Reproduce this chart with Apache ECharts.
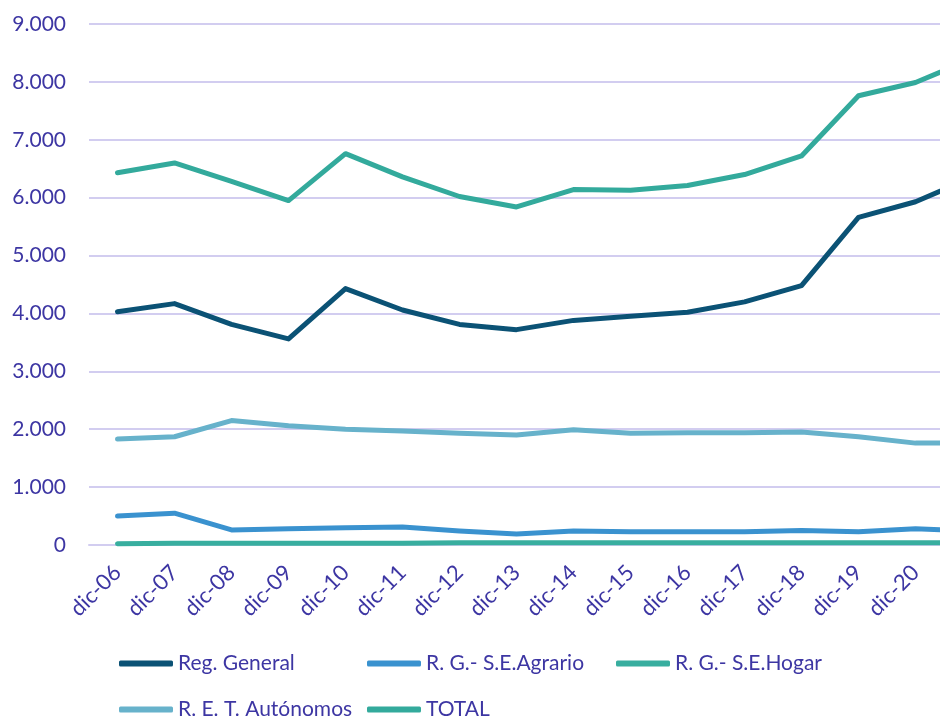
<!DOCTYPE html>
<html>
<head>
<meta charset="utf-8">
<script src="https://cdn.jsdelivr.net/npm/echarts@6/dist/echarts.min.js"></script>
<style>
  html, body { margin: 0; padding: 0; background: #fff; }
  #chart { width: 940px; height: 718px; }
</style>
</head>
<body>
<div id="chart"></div>
<script>
    // years shown on the x axis (last one sits past the right edge)
    var categories = ['dic-06', 'dic-07', 'dic-08', 'dic-09', 'dic-10', 'dic-11', 'dic-12', 'dic-13',
        'dic-14', 'dic-15', 'dic-16', 'dic-17', 'dic-18', 'dic-19', 'dic-20', 'dic-21']

    var regGeneral = [4030, 4170, 3810, 3560, 4430, 4060, 3810, 3720, 3880, 3950, 4020, 4200, 4480, 5660, 5930, 6350]
    var agrario = [500, 550, 260, 280, 300, 310, 240, 190, 240, 230, 230, 230, 250, 230, 280, 240]
    var hogar = [20, 30, 30, 30, 30, 30, 40, 40, 40, 40, 40, 40, 40, 40, 40, 40]
    var autonomos = [1830, 1870, 2150, 2060, 2000, 1970, 1930, 1900, 1990, 1930, 1940, 1940, 1950, 1870, 1760, 1760]
    var total = [6430, 6600, 6280, 5950, 6760, 6360, 6020, 5840, 6140, 6130, 6210, 6400, 6720, 7760, 7990, 8400]

    var yTicks = [0, 1000, 2000, 3000, 4000, 5000, 6000, 7000, 8000, 9000]

    var textColor = '#3d36a3'
    var fontFamily = 'Lato'

    var seriesDefs = [
        {name: 'Reg. General', data: regGeneral, color: '#0b5275'},
        {name: 'R. G.- S.E.Agrario', data: agrario, color: '#3a92cf'},
        {name: 'R. G.- S.E.Hogar', data: hogar, color: '#38ae9f'},
        {name: 'R. E. T. Autónomos', data: autonomos, color: '#67b2cb'},
        {name: 'TOTAL', data: total, color: '#33aa9c'}
    ]

    // legend cells: two rows, three columns
    var legendSpots = [[119, 653], [367, 653], [616, 653], [119, 699], [367, 699]]

    var chart = echarts.init(document.getElementById('chart'), null, {renderer: 'canvas'})
    chart.setOption({
        animation: false,
        backgroundColor: '#ffffff',
        grid: {
            left: 89,
            top: 24,
            width: 912,
            bottom: 173,
            outerBoundsMode: 'none',
            containLabel: false
        },
        legend: seriesDefs.map(function (s, i) {
            return {
                data: [s.name],
                left: legendSpots[i][0],
                top: legendSpots[i][1],
                padding: 0,
                itemWidth: 54,
                itemHeight: 6,
                icon: 'roundRect',
                textStyle: {
                    color: textColor,
                    fontFamily: fontFamily,
                    fontSize: 21
                }
            }
        }),
        xAxis: {
            type: 'category',
            data: categories,
            boundaryGap: true,
            axisLine: {show: true, lineStyle: {color: '#d2cdf0', width: 2}},
            axisTick: {show: false},
            axisLabel: {
                interval: 0,
                rotate: 45,
                margin: 24,
                color: textColor,
                fontFamily: fontFamily,
                fontSize: 22,
                // the last year falls outside the picture, its label is not shown
                formatter: function (value, index) {
                    return index === categories.length - 1 ? '' : value
                }
            }
        },
        yAxis: {
            type: 'value',
            min: yTicks[0],
            max: yTicks[yTicks.length - 1],
            interval: 1000,
            axisLine: {show: false},
            axisTick: {show: false},
            splitLine: {lineStyle: {color: '#d2cdf0', width: 2}},
            axisLabel: {
                margin: 23,
                color: textColor,
                fontFamily: fontFamily,
                fontSize: 21,
                formatter: function (v) {
                    return v.toLocaleString('de-DE')
                }
            }
        },
        series: seriesDefs.map(function (s) {
            return {
                name: s.name,
                type: 'line',
                data: s.data,
                showSymbol: false,
                symbol: 'none',
                color: s.color,
                lineStyle: {color: s.color, width: 5, cap: 'round', join: 'round'},
                itemStyle: {color: s.color}
            }
        })
    })
</script>
</body>
</html>
